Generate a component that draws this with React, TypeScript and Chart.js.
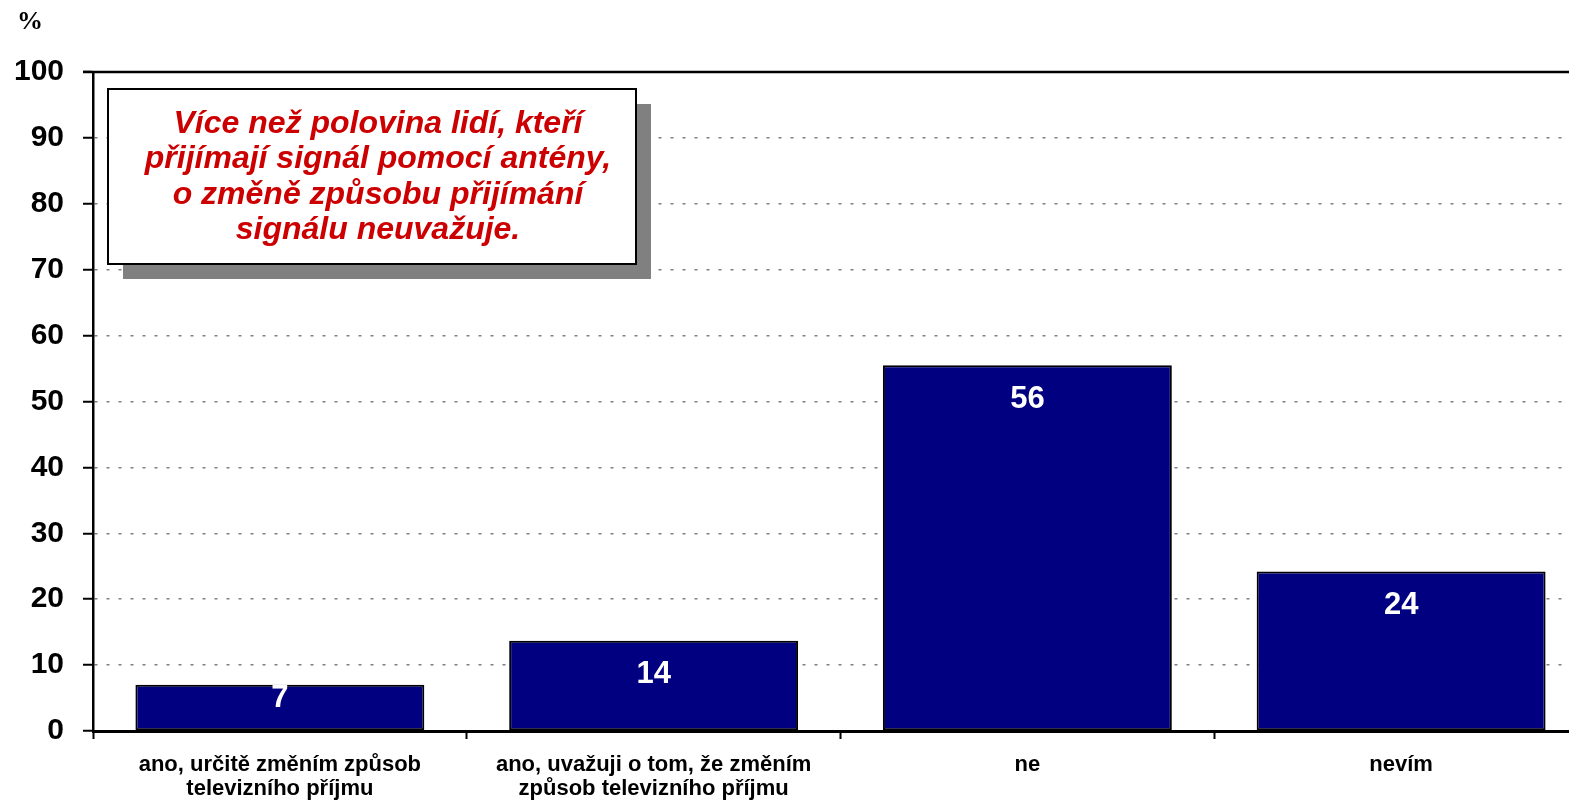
import React, { useEffect, useRef } from "react";
import { Chart, registerables } from "chart.js";

Chart.register(...registerables);

const categories: (string | string[])[] = [
  ["ano, určitě změním způsob", "televizního příjmu"],
  ["ano, uvažuji o tom, že změním", "způsob televizního příjmu"],
  "ne",
  "nevím",
];
const values = [7, 13.7, 55.5, 24.2];
const valueLabels = ["7", "14", "56", "24"];
const yMin = 0;
const yMax = 100;
const yStep = 10;
const yUnit = "%";
const noteLines = [
  "Více než polovina lidí, kteří",
  "přijímají signál pomocí antény,",
  "o změně způsobu přijímání",
  "signálu neuvažuje.",
];

const FONT = "'Liberation Sans', Arial, sans-serif";

const overlayPlugin = {
  id: "overlay",
  afterDatasetsDraw(chart: any) {
    const ctx = chart.ctx;
    const meta = chart.getDatasetMeta(0);
    ctx.save();
    ctx.fillStyle = "#ffffff";
    ctx.font = `bold 31px ${FONT}`;
    ctx.textAlign = "center";
    ctx.textBaseline = "middle";
    meta.data.forEach((bar: any, i: number) => {
      const h = bar.base - bar.y;
      const off = Math.min(33, h / 2 - 10);
      ctx.fillText(valueLabels[i], bar.x, bar.y + off + 1);
    });
    ctx.restore();
  },
  afterDraw(chart: any) {
    const ctx = chart.ctx;
    const y = chart.scales.y;
    const area = chart.chartArea;
    ctx.save();
    // top border line at max
    const yt = y.getPixelForValue(yMax);
    ctx.strokeStyle = "#000";
    ctx.lineWidth = 2.5;
    ctx.beginPath();
    ctx.moveTo(area.left - 10, yt);
    ctx.lineTo(area.right, yt);
    ctx.stroke();

    // unit label
    ctx.fillStyle = "#000";
    ctx.font = `bold 26px 'Liberation Serif', 'Times New Roman', serif`;
    ctx.textAlign = "center";
    ctx.textBaseline = "middle";
    ctx.fillText(yUnit, 30, 22);

    // note box with shadow
    const bx = 108, by = 89, bw = 528, bh = 175, sh = 15;
    ctx.fillStyle = "#808080";
    ctx.fillRect(bx + sh, by + sh, bw, bh);
    ctx.fillStyle = "#ffffff";
    ctx.fillRect(bx, by, bw, bh);
    ctx.strokeStyle = "#000";
    ctx.lineWidth = 2;
    ctx.strokeRect(bx, by, bw, bh);
    ctx.fillStyle = "#cc0000";
    ctx.font = `italic bold 32px ${FONT}`;
    ctx.textAlign = "center";
    ctx.textBaseline = "middle";
    noteLines.forEach((t, i) => {
      ctx.fillText(t, bx + bw / 2 + 6, 124 + i * 35.5);
    });
    ctx.restore();
  },
};

export default function App() {
  const ref = useRef<HTMLCanvasElement | null>(null);
  useEffect(() => {
    if (!ref.current) return;
    const chart = new Chart(ref.current, {
      type: "bar",
      data: {
        labels: categories,
        datasets: [
          {
            data: values,
            backgroundColor: "#000080",
            borderColor: "#000000",
            borderWidth: 2,
            borderSkipped: false,
            barPercentage: 0.773,
            categoryPercentage: 1,
          },
        ],
      },
      options: {
        responsive: false,
        maintainAspectRatio: false,
        animation: false,
        devicePixelRatio: 1,
        layout: { padding: { left: 0, right: 12, top: 72, bottom: 0 } },
        plugins: {
          legend: { display: false },
          tooltip: { enabled: false },
        },
        scales: {
          x: {
            grid: {
              display: true,
              drawOnChartArea: false,
              drawTicks: true,
              tickLength: 8,
              tickColor: "#000",
              tickWidth: 2,
              offset: true,
            },
            border: { display: true, color: "#000", width: 3 },
            ticks: {
              color: "#000",
              font: { family: FONT, size: 22, weight: "bold", lineHeight: 1.1 },
              padding: 14,
              maxRotation: 0,
              minRotation: 0,
              autoSkip: false,
            },
            afterFit(scale: any) {
              scale.height = 73;
            },
          },
          y: {
            min: yMin,
            max: yMax,
            grid: {
              color: "#808080",
              lineWidth: 1.5,
              drawTicks: true,
              tickLength: 10,
              tickColor: "#000",
              tickWidth: 2,
              tickBorderDash: [],
            },
            border: { display: true, color: "#000", width: 2.5, dash: [3, 9] },
            ticks: {
              stepSize: yStep,
              color: "#000",
              font: { family: FONT, size: 30, weight: "bold" },
              padding: 19,
            },
            afterFit(scale: any) {
              scale.width = 93;
            },
          },
        },
      },
      plugins: [overlayPlugin],
    });
    return () => chart.destroy();
  }, []);

  return (
    <div
      style={{
        position: "fixed",
        left: 0,
        top: 0,
        width: 1569,
        height: 804,
        overflow: "hidden",
        background: "#fff",
      }}
    >
      <canvas ref={ref} width={1600} height={804} style={{ display: "block" }} />
    </div>
  );
}
